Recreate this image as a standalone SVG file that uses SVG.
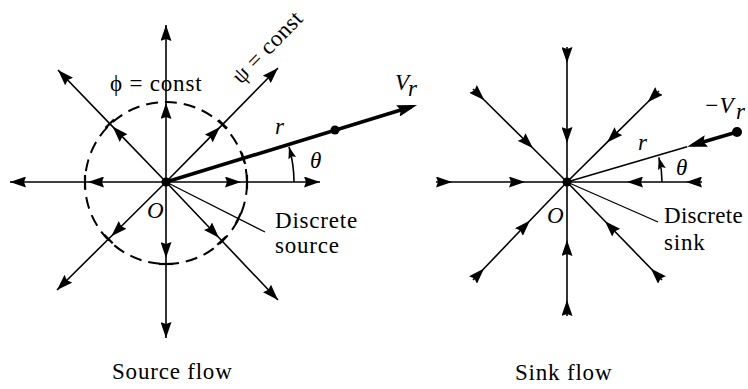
<svg xmlns="http://www.w3.org/2000/svg" width="748" height="389" viewBox="0 0 748 389">
<style>
.ray{fill:none;stroke:#000;stroke-width:1.6}
.thin{fill:none;stroke:#000;stroke-width:1.3}
.thick{fill:none;stroke:#000;stroke-width:3.6}
.tick{stroke:#000;stroke-width:2.2}
.circ{fill:none;stroke:#000;stroke-width:2;stroke-dasharray:12 7}
.src polyline{marker-mid:url(#ah);marker-end:url(#ah)}
.snk polyline{marker-start:url(#ahs);marker-mid:url(#ah)}
text{font-family:"Liberation Serif","Times New Roman",serif;font-size:23px;letter-spacing:0.8px;fill:#000}
.it{font-style:italic;letter-spacing:0}
</style>
<defs>
<marker id="ah" viewBox="0 0 16 11" refX="16" refY="5.5" markerWidth="16" markerHeight="11" markerUnits="userSpaceOnUse" orient="auto"><path d="M0,0 L16,5.5 L0,11 L2,5.5 z"/></marker>
<marker id="ahs" viewBox="0 0 16 11" refX="0" refY="5.5" markerWidth="16" markerHeight="11" markerUnits="userSpaceOnUse" orient="auto"><path d="M0,0 L16,5.5 L0,11 L2,5.5 z"/></marker>
<marker id="big" viewBox="0 0 20 12" refX="14" refY="6" markerWidth="20" markerHeight="12" markerUnits="userSpaceOnUse" orient="auto"><path d="M0,0 L20,6 L0,12 L3,6 z"/></marker>
<marker id="sm" viewBox="0 0 12 8" refX="12" refY="4" markerWidth="12" markerHeight="8" markerUnits="userSpaceOnUse" orient="auto"><path d="M0,0 L12,4 L0,8 L2,4 z"/></marker>
</defs>

<g id="source-flow">
  <circle class="circ" cx="166" cy="183" r="81"/>
  <g id="source-connectors" class="src">
    <polyline class="ray" points="166,182 166,103 166,25"/>
    <polyline class="ray" points="166,182 112.6,126.6 58,70"/>
    <polyline class="ray" points="166,182 220,127.1 278,68"/>
    <polyline class="ray" points="166,182 88,182 10,182"/>
    <polyline class="ray" points="166,182 241,182 320,182"/>
    <polyline class="ray" points="166,182 166,258 166,338"/>
    <polyline class="ray" points="166,182 111.3,236.2 57,290"/>
    <polyline class="ray" points="166,182 219,237.8 278,300"/>
    <line class="thin" x1="166" y1="182" x2="265" y2="232"/>
    <path class="thick" d="M166,182 L411.3,106.8" marker-end="url(#big)"/>
    <path class="ray" d="M294,182 A128,128 0 0 0 289,146.7" marker-end="url(#sm)"/>
  </g>
  <g id="source-ticks">
    <line class="tick" x1="114.1" y1="119.5" x2="105.5" y2="127.9"/>
    <line class="tick" x1="227.1" y1="128.4" x2="218.5" y2="120"/>
    <line class="tick" x1="112.7" y1="243.3" x2="104.3" y2="234.7"/>
    <line class="tick" x1="226.1" y1="236.6" x2="217.3" y2="244.8"/>
    <line class="tick" x1="85" y1="175" x2="85" y2="189"/>
    <line class="tick" x1="247" y1="175" x2="247" y2="189"/>
    <line class="tick" x1="159" y1="264" x2="173" y2="264"/>
    <line class="tick" x1="241" y1="213.1" x2="235.6" y2="223.9"/>
    <line class="tick" x1="245.2" y1="164" x2="241.6" y2="152.6"/>
  </g>
  <circle cx="166" cy="182" r="4.5"/>
  <circle cx="335" cy="130" r="4.5"/>
  <text x="110" y="91">ϕ = const</text>
  <text transform="translate(241,85) rotate(-46)" style="letter-spacing:0.4px">ψ = const</text>
  <text class="it" x="395" y="90">V</text>
  <text class="it" x="408" y="96" font-size="17">r</text>
  <text class="it" x="275" y="134">r</text>
  <text class="it" x="310" y="168">θ</text>
  <text class="it" x="147" y="218">O</text>
  <text x="275" y="228">Discrete</text>
  <text x="275" y="253">source</text>
  <text x="112" y="379">Source flow</text>
</g>

<g id="sink-flow">
  <g id="sink-connectors" class="snk">
    <polyline class="ray" points="567,47 567,143 567,182"/>
    <polyline class="ray" points="473,89 533,148.3 567,182"/>
    <polyline class="ray" points="659,91 607,142.4 567,182"/>
    <polyline class="ray" points="436,182 525,182 567,182"/>
    <polyline class="ray" points="702,182 627,182 567,182"/>
    <polyline class="ray" points="567,316 567,240 567,182"/>
    <polyline class="ray" points="473,280 530,220.5 567,182"/>
    <polyline class="ray" points="662,280 605,221.2 567,182"/>
  </g>
  <g id="sink-other-connectors">
    <line class="thin" x1="567" y1="182" x2="658" y2="222"/>
    <line class="ray" x1="567" y1="182" x2="687.1" y2="146.7"/>
    <path class="thick" d="M737,132 L692.9,145" marker-end="url(#big)"/>
    <path class="ray" d="M662,182 A95,95 0 0 0 658.8,157.4" marker-end="url(#sm)"/>
  </g>
  <circle cx="567" cy="182" r="4.5"/>
  <circle cx="737" cy="132" r="5"/>
  <text class="it" x="704" y="113">−V</text>
  <text class="it" x="736" y="119" font-size="16">r</text>
  <text class="it" x="638" y="150">r</text>
  <text class="it" x="676" y="175">θ</text>
  <text class="it" x="547" y="223">O</text>
  <text x="664" y="223" style="letter-spacing:0.3px">Discrete</text>
  <text x="664" y="250">sink</text>
  <text x="515" y="380">Sink flow</text>
</g>
</svg>
